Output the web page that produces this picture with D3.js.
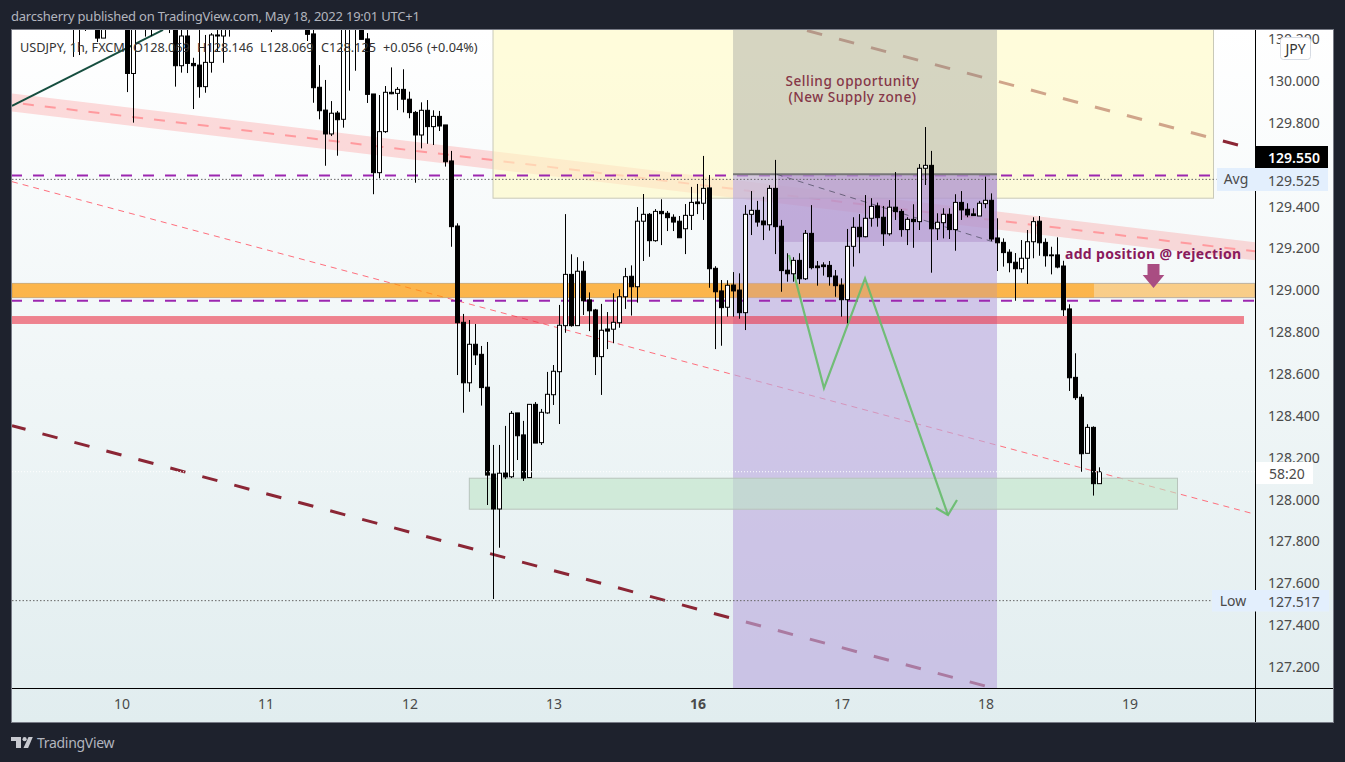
<!DOCTYPE html>
<html>
<head>
<meta charset="utf-8">
<script src="https://cdn.jsdelivr.net/npm/d3@7/dist/d3.min.js"></script>
<style>
html,body{margin:0;padding:0;background:#1e222d;overflow:hidden}
svg{display:block}
text{font-family:"Noto Sans","Open Sans",sans-serif}
.axis text{font-size:14px;fill:#4a4a4a}
.axis path{display:none}
</style>
</head>
<body>
<div id="chart"></div>
<script>
// ---------- hourly candles (first bar index = -8; bar 0 = start of "10") ----------
const firstBar = -8;
const opens = [
130.30,130.36,130.30,130.33,130.30,130.205,130.31,130.38,130.42,130.36,
130.036,130.34,130.40,130.36,130.40,130.37,130.33,130.30,130.073,130.215,
130.084,130.076,129.973,130.089,130.220,130.215,130.27,130.33,130.36,130.40,
130.37,130.41,130.38,130.35,130.38,130.42,130.39,130.36,130.33,130.36,
130.225,129.970,129.861,129.747,129.847,129.817,130.30,130.32,130.28,130.201,
129.938,129.562,129.758,129.946,129.941,129.960,129.913,129.850,129.742,129.860,
129.782,129.831,129.790,129.618,129.307,128.847,128.558,128.742,128.694,128.537,
128.122,127.955,128.127,128.109,128.414,128.309,128.105,128.455,128.272,128.414,
128.501,128.611,128.831,129.076,128.831,129.091,128.954,128.906,128.683,128.815,
128.814,128.845,128.969,129.067,129.017,129.330,129.363,129.237,129.377,129.368,
129.349,129.330,129.294,129.358,129.422,129.416,129.489,129.105,128.997,128.919,
129.025,129.001,128.893,129.363,129.382,129.331,129.313,129.487,129.306,129.096,
129.079,129.143,129.055,129.272,129.116,129.121,129.119,129.068,129.025,128.955,
129.210,129.301,129.256,129.344,129.403,129.349,129.270,129.397,129.377,129.290,
129.339,129.328,129.583,129.597,129.294,129.323,129.363,129.290,129.420,129.387,
129.365,129.355,129.414,129.430,129.250,129.229,129.182,129.134,129.103,129.153,
129.232,129.330,129.229,129.169,129.169,129.116,128.911,128.584,128.489,128.221,
128.345,128.076];
const highs = [
130.42,130.40,130.38,130.36,130.33,130.36,130.40,130.45,130.46,130.40,
130.38,130.44,130.46,130.44,130.42,130.41,130.36,130.34,130.30,130.28,
130.111,130.25,130.220,130.229,130.30,130.30,130.38,130.40,130.43,130.44,
130.45,130.43,130.42,130.40,130.44,130.46,130.43,130.39,130.38,130.39,
130.30,130.076,130.005,129.904,129.857,130.34,130.40,130.36,130.31,130.229,
129.938,129.933,129.976,130.065,129.971,130.056,129.949,129.857,129.898,129.909,
129.860,129.857,129.790,129.666,129.320,128.887,128.858,128.839,128.734,128.753,
128.261,128.261,128.352,128.423,128.414,128.376,128.455,128.466,128.433,128.610,
128.643,128.930,129.364,129.172,129.158,129.139,128.990,128.911,128.935,128.896,
128.986,129.005,129.107,129.119,129.398,129.460,129.369,129.388,129.435,129.379,
129.363,129.355,129.412,129.494,129.508,129.642,129.551,129.115,129.049,129.048,
129.087,129.081,129.407,129.474,129.427,129.447,129.502,129.623,129.336,129.177,
129.158,129.177,129.288,129.407,129.140,129.134,129.140,129.097,129.057,129.293,
129.349,129.364,129.455,129.440,129.419,129.403,129.431,129.565,129.388,129.349,
129.411,129.603,129.780,129.666,129.368,129.392,129.392,129.459,129.474,129.416,
129.392,129.427,129.543,129.463,129.344,129.248,129.196,129.178,129.240,129.288,
129.349,129.355,129.248,129.208,129.253,129.141,128.933,128.699,128.504,128.360,
128.350,128.154];
const lows = [
130.115,130.124,130.239,130.27,130.186,130.205,130.28,130.30,130.30,129.947,
129.801,130.29,130.212,130.215,130.30,130.28,130.229,129.973,130.040,130.038,
129.866,129.920,129.944,130.040,130.140,130.087,130.212,130.28,130.30,130.31,
130.30,130.32,130.29,130.234,130.30,130.32,130.28,130.27,130.28,130.191,
129.896,129.817,129.595,129.737,129.643,129.777,129.954,130.049,130.199,129.895,
129.459,129.535,129.752,129.937,129.861,129.850,129.822,129.514,129.678,129.700,
129.694,129.761,129.591,129.208,128.595,128.415,128.515,128.643,128.449,127.974,
127.525,127.770,128.098,128.103,128.189,128.089,128.105,128.270,128.261,128.410,
128.452,128.361,128.797,128.826,128.831,128.882,128.805,128.595,128.500,128.719,
128.747,128.821,128.911,128.879,128.941,129.140,129.160,129.232,129.216,129.283,
129.283,129.251,129.173,129.288,129.364,129.336,129.012,128.719,128.735,128.874,
128.874,128.864,128.810,129.264,129.304,129.240,129.285,129.173,128.993,129.041,
129.041,129.030,129.049,129.100,129.022,129.070,129.022,128.969,128.874,128.842,
129.113,129.177,129.253,129.304,129.304,129.212,129.261,129.336,129.256,129.216,
129.203,129.288,129.503,129.084,129.240,129.248,129.245,129.189,129.336,129.349,
129.355,129.355,129.392,129.235,129.092,129.113,129.086,128.950,129.084,129.030,
129.153,129.165,129.113,129.076,129.105,128.877,128.519,128.476,128.133,128.221,
128.019,128.076];
const closes = [
130.36,130.30,130.33,130.30,130.205,130.31,130.38,130.42,130.36,130.036,
130.34,130.40,130.36,130.40,130.37,130.33,130.30,130.073,130.215,130.084,
130.073,129.973,130.089,130.220,130.215,130.27,130.33,130.36,130.40,130.37,
130.41,130.38,130.35,130.38,130.42,130.39,130.36,130.33,130.36,130.223,
129.968,129.858,129.747,129.846,129.815,130.30,130.32,130.28,130.199,129.936,
129.562,129.758,129.946,129.939,129.960,129.913,129.849,129.742,129.860,129.782,
129.831,129.785,129.614,129.304,128.845,128.558,128.742,128.691,128.535,128.117,
127.955,128.126,128.108,128.412,128.305,128.103,128.455,128.270,128.417,128.503,
128.613,128.833,129.076,128.831,129.091,128.950,128.902,128.683,128.809,128.805,
128.847,128.969,129.065,129.017,129.330,129.363,129.237,129.377,129.366,129.347,
129.326,129.251,129.358,129.420,129.414,129.487,129.103,128.993,128.917,129.024,
128.997,128.893,129.363,129.382,129.326,129.313,129.487,129.304,129.094,129.079,
129.143,129.055,129.272,129.108,129.108,129.113,129.065,129.022,128.955,129.210,
129.301,129.256,129.344,129.401,129.347,129.270,129.397,129.376,129.290,129.339,
129.328,129.583,129.597,129.294,129.325,129.363,129.290,129.420,129.384,129.360,
129.357,129.416,129.430,129.245,129.227,129.180,129.132,129.103,129.153,129.232,
129.328,129.227,129.165,129.165,129.111,128.907,128.582,128.487,128.219,128.345,
128.076,128.133];

// ---------- axes ----------
const priceTicks = [130.2,130,129.8,129.4,129.2,129,128.8,128.6,128.4,128.2,128,127.8,127.6,127.4,127.2];
const dayBars   = [0,24,48,72,96,120,144,168];
const dayLabels = ["10","11","12","13","16","17","18","19"];
const boldDay   = "16";

// ---------- drawings, in [bar, price] ----------
const paneLeft = -18.25, paneRight = 188.92, offTop = 130.6, offBottom = 126.8;
const channelUpper  = [[paneLeft,129.940],[paneRight,129.229]];
const channelMiddle = [[paneLeft,129.897],[paneRight,129.186]];
const channelLower  = [[paneLeft,129.854],[paneRight,129.143]];
const thinTrend   = [[paneLeft,129.519],[paneRight,127.930]];
const lowerTrend  = [[paneLeft,128.353],[163,126.963]];
const upperTrend  = [[186.08,129.694],[109.75,130.275]];
const greenTrend  = [[paneLeft,129.881],[6.92,130.244]];
const greyDiagonal= [[109.2,129.554],[145.87,129.226]];
const zigzag      = [[111.25,129.169],[117.08,128.533],[123.92,129.057],[137.75,127.926]];
const zigzagHead  = [[135.75,127.960],[137.75,127.926],[139.25,127.998]];
const arrowShape  = [[171,129.126],[173,129.126],[173,129.073],[173.8,129.073],[172,129.011],[170.2,129.073],[171,129.073]];
const avgDash = 129.548, midDash = 128.950;
const avgLevel = 129.530, lowLevel = 127.517, lastLevel = 128.133;
const avgEndBar = 182.5, lowEndBar = 181.7;
const supplyZone = [61.92,182,129.440,offTop];
const purpleZone = [101.92,145.92,offBottom,129.555];
const greyZone   = [101.92,145.92,129.555,offTop];
const innerZone  = [109.42,145.92,129.231,129.555];
const orangeWide = [paneLeft,paneRight,128.965,129.033];
const orangeNear = [paneLeft,162.08,128.965,129.033];
const redStrip   = [paneLeft,187.08,128.839,128.877];
const greenZone  = [57.97,176,127.954,128.102];
const noteLines  = ["Selling opportunity","(New Supply zone)"];
const noteAnchors= [[121.83,130.002],[121.83,129.926]];
const rejectNote = "add position @ rejection";
const rejectAnchor = [157.25,129.178];

// ---------- texts ----------
const headerText = "darcsherry published on TradingView.com, May 18, 2022 19:01 UTC+1";
const legendParts = ["USDJPY, 1h, FXCM","O128.069","H128.146","L128.069","C128.125","+0.056","(+0.04%)"];
const legendX = [20,133,197,260,321,383,427];

const W = 1345, H = 762;
const svg = d3.select("#chart").append("svg").attr("width",W).attr("height",H);
const defs = svg.append("defs");
const grad = defs.append("linearGradient").attr("id","bg").attr("x1",0).attr("y1",0).attr("x2",0).attr("y2",1);
grad.append("stop").attr("offset","0%").attr("stop-color","#ffffff");
grad.append("stop").attr("offset","100%").attr("stop-color","#e1edef");
defs.append("clipPath").attr("id","pane").append("rect").attr("x",12).attr("y",30).attr("width",1243).attr("height",658);

const x = d3.scaleLinear().domain([0,163]).range([121.5,1099.5]);
const y = d3.scaleLinear().domain([127.2,130]).range([667,81]);
const line = d3.line().x(d=>x(d[0])).y(d=>y(d[1]));

// frame
svg.append("rect").attr("x",11.5).attr("y",29.5).attr("width",1322).attr("height",693)
  .attr("fill","url(#bg)").attr("stroke","#787b86").attr("stroke-width",1);

// header
svg.append("text").attr("x",11).attr("y",21).attr("fill","#b2b5be").attr("font-size",13).attr("letter-spacing",-0.22).text(headerText);

const pane = svg.append("g").attr("clip-path","url(#pane)");
const zone = (g,z,fill,stroke,sw)=>g.append("rect")
  .attr("x",x(z[0])).attr("width",x(z[1])-x(z[0]))
  .attr("y",y(z[3])).attr("height",y(z[2])-y(z[3]))
  .attr("fill",fill).attr("stroke",stroke||"none").attr("stroke-width",sw||0);
const path = (g,pts,stroke,sw,dash,off)=>g.append("path").attr("d",line(pts)).attr("fill","none")
  .attr("stroke",stroke).attr("stroke-width",sw).attr("stroke-dasharray",dash||null).attr("stroke-dashoffset",off||0);

// channel
pane.append("path").attr("d",line(channelUpper.concat(channelLower.slice().reverse()))+"Z")
  .attr("fill","rgba(255,82,82,0.2)");
path(pane,channelMiddle,"#ff9a9e",2,"11 11",11);
path(pane,thinTrend,"#ff6f7d",1,"6 5");
path(pane,lowerTrend,"#8b2635",3,"15.6 17.5",1.6);
path(pane,upperTrend,"#8b2635",3,"15.6 17.5");
path(pane,greenTrend,"#164e3f",2);

// strips and zones
zone(pane,orangeWide,"rgba(255,152,0,0.45)","rgba(120,123,134,0.45)",1);
zone(pane,supplyZone,"rgba(255,250,195,0.6)","#c9c9b8",1);
path(pane,[[paneLeft,avgDash],[avgEndBar,avgDash]],"#9c27b0",2,"11 11",1);
zone(pane,purpleZone,"rgba(188,170,222,0.64)");
zone(pane,greyZone,"rgba(120,123,134,0.3)");
zone(pane,innerZone,"rgba(167,130,195,0.4)");
path(pane,[[greyZone[0],greyZone[2]],[greyZone[1],greyZone[2]]],"#777",2);
path(pane,greyDiagonal,"rgba(70,70,90,0.7)",1,"6 5");
zone(pane,orangeNear,"rgba(255,152,0,0.45)");
zone(pane,redStrip,"rgba(235,52,72,0.6)");
path(pane,[[paneLeft,midDash],[paneRight,midDash]],"#9c27b0",2,"11 11",1);
zone(pane,greenZone,"rgba(190,228,198,0.6)","#b8c4bc",1);

// dotted levels
path(pane,[[paneLeft,avgLevel],[avgEndBar,avgLevel]],"#666",1,"1.5 2");
path(pane,[[paneLeft,lowLevel],[lowEndBar,lowLevel]],"#666",1,"1.5 2");

// green path + arrow
path(pane,zigzag,"rgba(102,187,106,0.9)",2.2);
path(pane,zigzagHead,"rgba(102,187,106,0.9)",2.2);
pane.append("path").attr("d",line(arrowShape)+"Z").attr("fill","#a94d82");

// notes
pane.selectAll("text.note").data(noteLines).join("text").attr("class","note")
  .attr("x",(d,i)=>x(noteAnchors[i][0])).attr("y",(d,i)=>y(noteAnchors[i][1]))
  .attr("text-anchor","middle").attr("dominant-baseline","central")
  .attr("font-size",13.6).attr("font-weight",500).attr("letter-spacing",0.5).attr("fill","#853748").text(d=>d);
pane.append("text").attr("x",x(rejectAnchor[0])).attr("y",y(rejectAnchor[1]))
  .attr("dominant-baseline","central").attr("font-size",14).attr("font-weight",700)
  .attr("fill","#8a1a5c").attr("letter-spacing",0.32).text(rejectNote);

// candles
const candles = opens.map((o,i)=>({bar:firstBar+i,o,h:highs[i],l:lows[i],c:closes[i]}));
const cg = pane.selectAll("g.candle").data(candles).join("g").attr("class","candle");
cg.append("line").attr("x1",d=>x(d.bar)).attr("x2",d=>x(d.bar))
  .attr("y1",d=>y(d.h)).attr("y2",d=>y(d.l)).attr("stroke","#000").attr("stroke-width",1);
cg.append("rect").attr("x",d=>x(d.bar)-2).attr("width",4)
  .attr("y",d=>y(Math.max(d.o,d.c))).attr("height",d=>Math.max(0.5,Math.abs(y(d.o)-y(d.c))))
  .attr("fill",d=>d.c>=d.o?"#fff":"#000").attr("stroke","#000").attr("stroke-width",1);

// last price dotted
path(pane,[[paneLeft,lastLevel],[paneRight,lastLevel]],"#fff",1,"1 2");

// legend
svg.selectAll("text.legend").data(legendParts).join("text").attr("class","legend")
  .attr("x",(d,i)=>legendX[i]).attr("y",52).attr("font-size",12.7).attr("fill","#333").text(d=>d);

// axes
const px = d3.axisBottom(x).tickValues(dayBars).tickFormat((d,i)=>dayLabels[i]).tickSize(0).tickPadding(11);
const ax = svg.append("g").attr("class","axis").attr("transform","translate(0,688)").call(px);
ax.selectAll("text").attr("font-weight",d=>dayLabels[dayBars.indexOf(d)]===boldDay?700:400);
const py = d3.axisRight(y).tickValues(priceTicks).tickFormat(d3.format(".3f")).tickSize(0).tickPadding(13);
svg.append("g").attr("class","axis").attr("transform","translate(1255,0)").call(py);

svg.append("line").attr("x1",12).attr("x2",1333).attr("y1",688.5).attr("y2",688.5).attr("stroke","#000");
svg.append("line").attr("x1",1255.5).attr("x2",1255.5).attr("y1",30).attr("y2",722).attr("stroke","#000");

// price labels
const labelBox = (bx,by,bw,bh,fill)=>svg.append("rect").attr("x",bx).attr("y",by).attr("width",bw).attr("height",bh).attr("fill",fill);
const label = (tx,ty,t,fill,weight,anchor)=>svg.append("text").attr("x",tx).attr("y",ty)
  .attr("dominant-baseline","central").attr("font-size",14).attr("font-weight",weight||400)
  .attr("text-anchor",anchor||"start").attr("fill",fill).text(t);
labelBox(1217,168,111,23,"#e3effd");
label(1236,178.5,"Avg","#4a4a4a",400,"middle");
label(1268,180,"129.525","#4a4a4a");
labelBox(1255,146,73,22,"#000");
label(1268,157.5,"129.550","#fff",600);
labelBox(1212,590,117,21.5,"#e3effd");
label(1233,600,"Low","#4a4a4a",400,"middle");
label(1268,601,"127.517","#4a4a4a");
labelBox(1256,462,57,22,"#fff");
label(1287,473,"58:20","#4a4a4a",400,"middle");

// JPY button
svg.append("rect").attr("x",1280.5).attr("y",37.5).attr("width",30).attr("height",22).attr("rx",3)
  .attr("fill","#fff").attr("stroke","#d6dbe3");
label(1295.5,48,"JPY","#333",400,"middle");

// footer logo
const logo = svg.append("g").attr("fill","#c8cad0");
logo.append("path").attr("d","M11 737h10v11h-5v-7h-5z");
logo.append("circle").attr("cx",24.6).attr("cy",739.2).attr("r",2.1);
logo.append("path").attr("d","M28.5 737h4.3l-4.7 11h-4.6z");
svg.append("text").attr("x",37).attr("y",748).attr("font-size",14).attr("fill","#b2b5be").attr("letter-spacing",-0.3).text("TradingView");
</script>
</body>
</html>
